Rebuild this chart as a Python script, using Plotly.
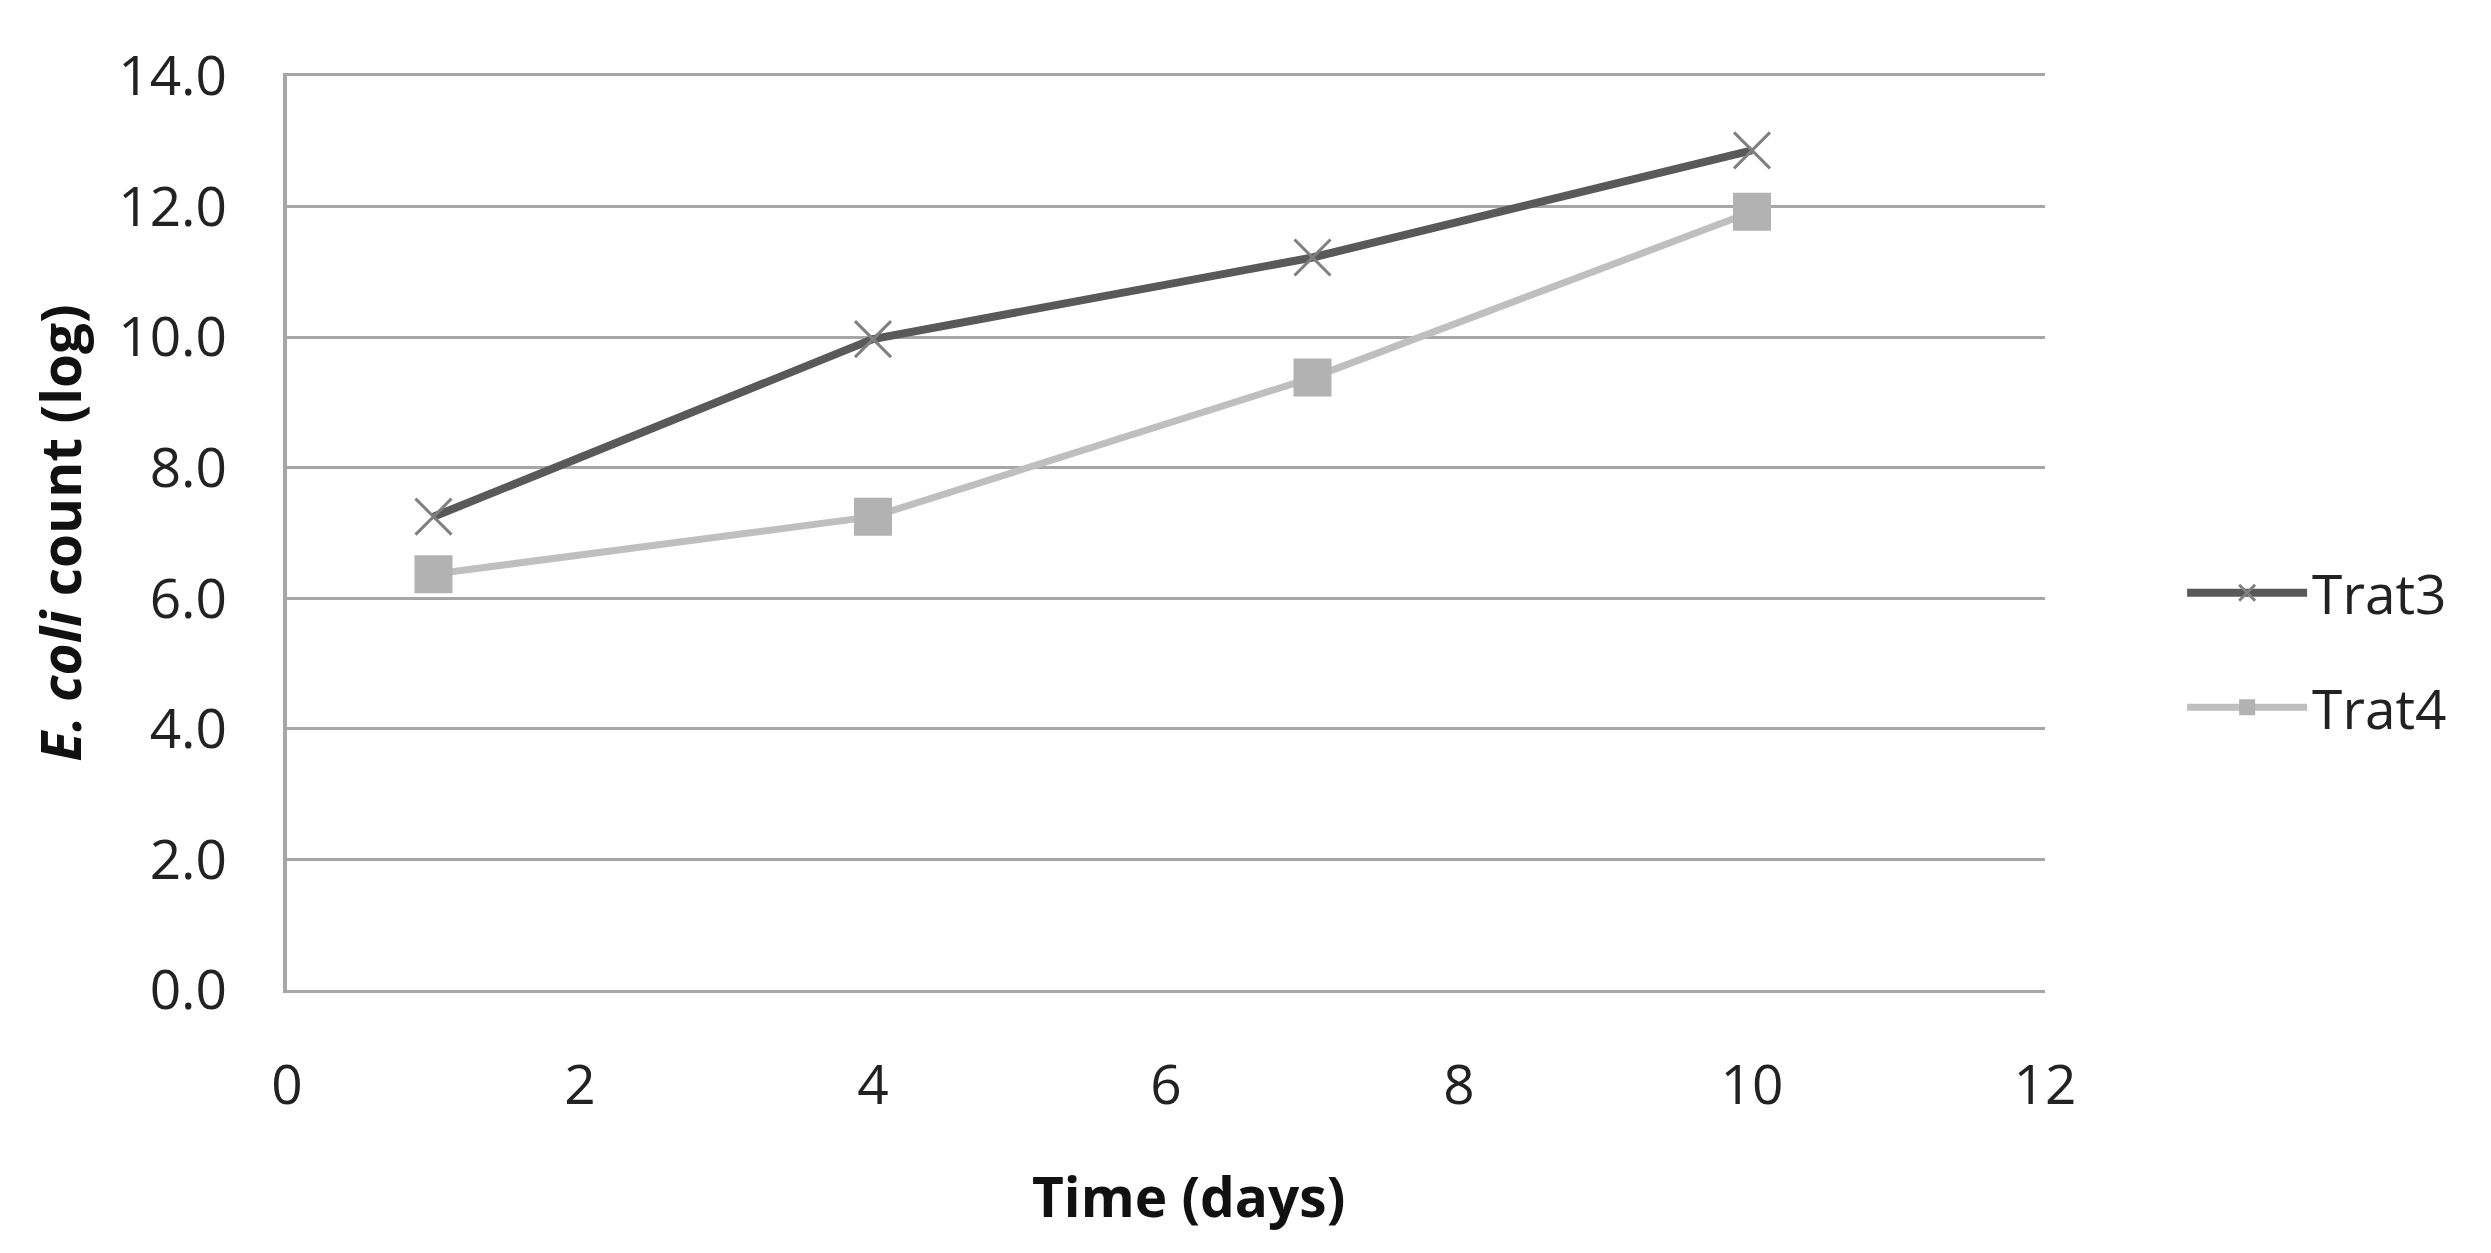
import plotly.graph_objects as go

days = [1, 4, 7, 10]
trat3 = [7.25, 9.97, 11.22, 12.86]
trat4 = [6.37, 7.25, 9.38, 11.92]
x_ticks = [0, 2, 4, 6, 8, 10, 12]
y_ticks = [0, 2, 4, 6, 8, 10, 12, 14]
y_tick_text = [f"{v:.1f}" for v in y_ticks]

FONT = "Open Sans"

fig = go.Figure()
fig.add_trace(go.Scatter(
    x=days, y=trat3, name="Trat3", mode="lines+markers",
    legendgroup="a",
    line=dict(color="#595959", width=8),
    marker=dict(symbol="x-thin", size=36, line=dict(color="#808080", width=3), color="#808080"),
))
fig.add_trace(go.Scatter(
    x=days, y=trat4, name="Trat4", mode="lines+markers",
    legendgroup="b",
    line=dict(color="#bfbfbf", width=7),
    marker=dict(symbol="square", size=38, color="#b2b2b2"),
))

fig.update_layout(
    width=2491, height=1253,
    margin=dict(l=279, r=454, t=68, b=271),
    paper_bgcolor="white", plot_bgcolor="white",
    font=dict(family=FONT, size=55, color="#222222"),
    legend=dict(
        x=1.078, y=0.372, xanchor="left", yanchor="middle",
        font=dict(family=FONT, size=55, color="#222222"),
        itemwidth=120, tracegroupgap=40, traceorder="grouped",
    ),
    xaxis=dict(
        range=[0, 12], tickvals=x_ticks, ticktext=[str(v) for v in x_ticks],
        showgrid=False, zeroline=False, showline=True, mirror=True,
        linecolor="#a6a6a6", linewidth=3, ticks="",
        ticklabelstandoff=45,
    ),
    yaxis=dict(
        range=[0, 14], tickvals=y_ticks, ticktext=y_tick_text,
        showgrid=True, gridcolor="#a6a6a6", gridwidth=3,
        zeroline=False, showline=True, mirror=False, linecolor="#a6a6a6", linewidth=4, ticks="",
        ticklabelstandoff=45,
        title=dict(text="<b><i>E. coli</i> count (log)</b>", font=dict(family=FONT, size=55, color="#111111"), standoff=20),
    ),
    annotations=[dict(
        text="<b>Time (days)</b>", xref="paper", yref="paper", x=0.513, y=0,
        xanchor="center", yanchor="middle", yshift=-205, showarrow=False,
        font=dict(family=FONT, size=55, color="#111111"),
    )],
)

fig.write_html("out.html")
